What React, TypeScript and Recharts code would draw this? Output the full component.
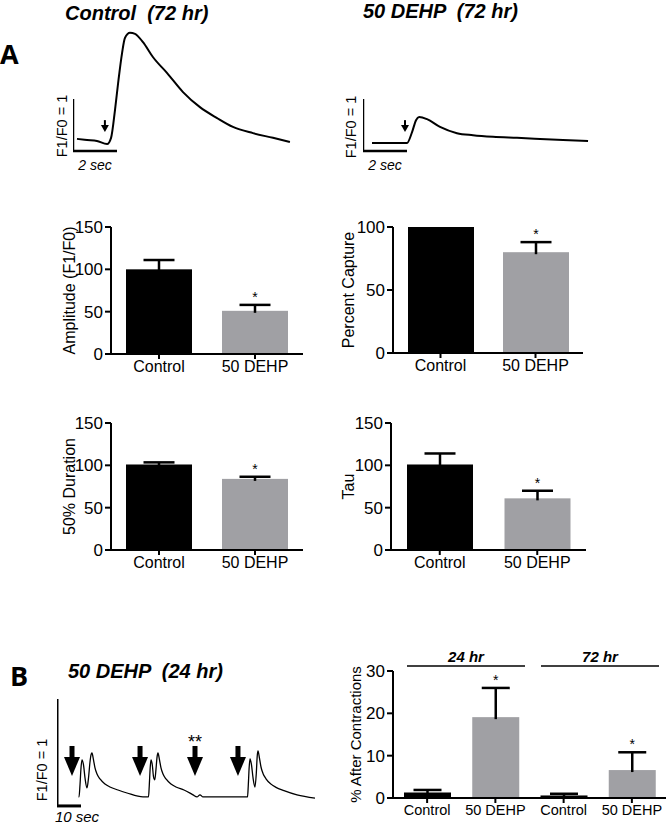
import React from 'react';
import { BarChart, Bar, XAxis, YAxis, ComposedChart, Line, Scatter, ReferenceLine } from 'recharts';

const FONT = '"Liberation Sans", Arial, Helvetica, sans-serif';
const GREY = '#a0a0a4';

// panel A traces: time (s) and F1/F0
const ctrlT = [0.18, 0.64, 1.09, 1.55, 1.73, 1.91, 2.05, 2.23, 2.36, 2.59, 2.82, 3.18, 3.64, 4.27, 5.0, 5.77, 6.55, 7.27, 8.18, 9.09, 9.86];
const ctrlF = [1.06, 1.04, 1.02, 0.96, 1.08, 1.62, 2.13, 2.71, 3.0, 3.1, 3.08, 2.92, 2.63, 2.33, 1.96, 1.67, 1.46, 1.29, 1.17, 1.08, 1.0];
const dehpT = [0.41, 1.23, 2.0, 2.23, 2.41, 2.55, 2.91, 3.5, 4.27, 5.0, 5.91, 7.0, 8.05, 9.09, 10.23];
const dehpF = [0.98, 0.98, 0.98, 1.19, 1.42, 1.48, 1.44, 1.29, 1.17, 1.13, 1.1, 1.08, 1.06, 1.04, 1.02];
const ctrlArrowT = [1.45];
const dehpArrowT = [1.91];
const arrowF = 1.19;

// panel B trace
const bT = [
  8.96, 9.17, 9.58, 10.0, 10.42, 11.04, 11.67, 12.5, 13.13, 13.75, 14.17, 14.58, 15.21, 15.83, 16.67, 17.92, 20.0, 22.08, 25.42, 29.17, 35.83,
  38.13, 38.46, 38.83, 39.17, 39.71, 40.21, 40.75, 41.25, 41.67, 42.08, 42.71, 43.33, 44.17, 45.42, 47.5, 49.58, 52.92, 56.67, 58.33, 59.58, 60.83,
  79.17, 79.38, 79.71, 80.08, 80.42, 81.04, 81.67, 82.5, 83.04, 83.42, 83.75, 84.38, 85.0, 85.83, 87.08, 89.17, 91.25, 94.58, 100, 107.5,
];
const bF = [
  1.0, 1.0, 1.112, 1.271, 1.346, 1.299, 1.178, 1.084, 1.178, 1.327, 1.393, 1.411, 1.346, 1.271, 1.215, 1.168, 1.121, 1.093, 1.065, 1.037, 1.0,
  1.0, 1.112, 1.271, 1.346, 1.299, 1.19, 1.16, 1.26, 1.37, 1.411, 1.346, 1.271, 1.215, 1.168, 1.121, 1.093, 1.065, 1.02, 1.0, 1.02, 1.0,
  1.0, 1.0, 1.112, 1.28, 1.355, 1.3, 1.18, 1.093, 1.22, 1.38, 1.43, 1.36, 1.28, 1.22, 1.17, 1.12, 1.09, 1.06, 1.02, 0.99,
];
const bArrowT = [6.25, 34.6, 57.5, 75.4];
const bArrowMark = ['', '', '**', ''];
const bArrowF = 1.196;

// bar panels
const groups = ['Control', '50 DEHP'];
const amplitude = [100, 51];
const amplitudeErr = [11, 7];
const capture = [100, 80];
const captureErr = [0, 8];
const duration = [101, 84];
const durationErr = [2.5, 2.5];
const tau = [101, 61];
const tauErr = [13, 9];
const sig2 = ['', '*'];

const afterGroups = ['Control', '50 DEHP', 'Control', '50 DEHP'];
const afterKeys = ['c24', 'd24', 'c72', 'd72'];
const after = [1.3, 19.1, 0.6, 6.6];
const afterErr = [0.6, 6.9, 0.4, 4.2];
const afterSig = ['', '*', '', '*'];

const pts = (t: number[], f: number[], extra?: string[]) =>
  t.map((v, i) => ({ t: v, f: f[i], mark: extra ? extra[i] : '' }));

const rows = (names: string[], keys: string[], m: number[], e: number[], s: string[]) =>
  names.map((n, i) => ({ key: keys[i], name: n, mean: m[i], err: e[i], sig: s[i], fill: i % 2 === 0 ? '#000' : GREY }));

const SmallArrow = ({ cx, cy }: any) => (
  <g>
    <line x1={cx} x2={cx} y1={cy - 12} y2={cy - 5} stroke="#000" strokeWidth={2} />
    <path d={`M${cx - 4},${cy - 7} L${cx + 4},${cy - 7} L${cx},${cy} Z`} fill="#000" />
  </g>
);

const BigArrow = ({ cx, cy, payload }: any) => (
  <g>
    <rect x={cx - 2.5} y={cy - 30} width={5} height={12} fill="#000" />
    <path d={`M${cx - 8},${cy - 19} L${cx + 8},${cy - 19} L${cx},${cy} Z`} fill="#000" />
    {payload && payload.mark ? (
      <text x={cx} y={cy - 28} textAnchor="middle" fontSize={18} fontFamily={FONT}>{payload.mark}</text>
    ) : null}
  </g>
);

function Trace({ left, top, t, f, arrows, xMax }: any) {
  return (
    <div style={{ position: 'absolute', left, top }}>
      <ComposedChart width={xMax * 22} height={130} margin={{ top: 0, right: 0, bottom: 0, left: 0 }}>
        <XAxis type="number" dataKey="t" domain={[0, xMax]} hide />
        <YAxis type="number" dataKey="f" domain={[0.75, 3.25]} hide />
        <ReferenceLine ifOverflow="visible" segment={[{ x: 0, y: 0.827 }, { x: 0, y: 1.827 }]} stroke="#000" strokeWidth={2.5} />
        <ReferenceLine ifOverflow="visible" segment={[{ x: 0, y: 0.827 }, { x: 2, y: 0.827 }]} stroke="#000" strokeWidth={2.5} />
        <Line data={pts(t, f)} dataKey="f" type="monotone" stroke="#000" strokeWidth={2} dot={false} isAnimationActive={false} />
        <Scatter data={arrows} dataKey="f" shape={(p: any) => <SmallArrow {...p} />} isAnimationActive={false} />
      </ComposedChart>
    </div>
  );
}

function BarWithError(props: any) {
  const { x, y, width, height, payload, cap } = props;
  const ppu = payload.mean > 0 ? height / payload.mean : 0;
  const top = y - payload.err * ppu;
  const cx = x + width / 2;
  return (
    <g>
      <rect x={x} y={y} width={width} height={height} fill={payload.fill} />
      {payload.err > 0 ? (
        <g stroke="#000" strokeWidth={2.5}>
          <line x1={cx} x2={cx} y1={y + 2} y2={top} />
          <line x1={cx - cap} x2={cx + cap} y1={top} y2={top} />
        </g>
      ) : null}
      {payload.sig ? (
        <text x={cx} y={top - 3} textAnchor="middle" fontSize={14} fontFamily={FONT} fill="#000">{payload.sig}</text>
      ) : null}
    </g>
  );
}

function StatChart({ data, left, plotTop, yW, plotW, plotH, domain, ticks, label, barSize, cap, catFont = 16, labelFont = 16, mRight = 4 }: any) {
  const mTop = 14;
  const names: Record<string, string> = {};
  data.forEach((d: any) => (names[d.key] = d.name));
  return (
    <div style={{ position: 'absolute', left, top: plotTop - mTop }}>
      <BarChart width={yW + plotW + mRight} height={mTop + plotH + 30} data={data} margin={{ top: mTop, right: mRight, bottom: 0, left: 0 }}>
        <XAxis
          dataKey="key"
          height={30}
          interval={0}
          tickFormatter={(k: string) => names[k]}
          axisLine={{ stroke: '#000', strokeWidth: 2 }}
          tickLine={{ stroke: '#000', strokeWidth: 2 }}
          tickSize={5}
          tick={{ fill: '#000', fontSize: catFont, fontFamily: FONT }}
        />
        <YAxis
          width={yW}
          domain={domain}
          ticks={ticks}
          interval={0}
          axisLine={{ stroke: '#000', strokeWidth: 2 }}
          tickLine={{ stroke: '#000', strokeWidth: 2 }}
          tickSize={6}
          tick={{ fill: '#000', fontSize: 17, fontFamily: FONT }}
          label={{
            value: label,
            angle: -90,
            position: 'center',
            fill: '#000',
            fontSize: labelFont,
            fontFamily: FONT,
            style: { fontSize: labelFont, fontFamily: FONT, fill: '#000' },
          }}
        />
        <Bar dataKey="mean" barSize={barSize} isAnimationActive={false} shape={(p: any) => <BarWithError {...p} cap={cap} />} />
      </BarChart>
    </div>
  );
}

export default function App() {
  const keys2 = ['ctrl', 'dehp'];
  const bold = { fontFamily: FONT, fontWeight: 700, fontStyle: 'italic' } as any;
  return (
    <div style={{ position: 'absolute', left: 0, top: 0, width: 667, height: 825, background: '#fff', fontFamily: FONT }}>
      <Trace left={73} top={25} t={ctrlT} f={ctrlF} xMax={10.5} arrows={pts(ctrlArrowT, [arrowF])} />
      <Trace left={363} top={25} t={dehpT} f={dehpF} xMax={10.5} arrows={pts(dehpArrowT, [arrowF])} />

      <StatChart data={rows(groups, keys2, amplitude, amplitudeErr, sig2)} left={27} plotTop={227} yW={84} plotW={192} plotH={127}
        domain={[0, 150]} ticks={[0, 50, 100, 150]} label="Amplitude (F1/F0)" barSize={66} cap={15.5} />
      <StatChart data={rows(groups, keys2, capture, captureErr, sig2)} left={303} plotTop={227} yW={90} plotW={190} plotH={126}
        domain={[0, 100]} ticks={[0, 50, 100]} label="Percent Capture" barSize={66} cap={15.5} />
      <StatChart data={rows(groups, keys2, duration, durationErr, sig2)} left={27} plotTop={423} yW={84} plotW={192} plotH={127}
        domain={[0, 150]} ticks={[0, 50, 100, 150]} label="50% Duration" barSize={66} cap={15.5} />
      <StatChart data={rows(groups, keys2, tau, tauErr, sig2)} left={305} plotTop={423} yW={86} plotW={195} plotH={127}
        domain={[0, 150]} ticks={[0, 50, 100, 150]} label="Tau" barSize={66} cap={15.5} />

      <div style={{ position: 'absolute', left: 57, top: 690 }}>
        <ComposedChart width={264} height={123} margin={{ top: 0, right: 0, bottom: 0, left: 0 }}>
          <XAxis type="number" dataKey="t" domain={[0, 110]} hide />
          <YAxis type="number" dataKey="f" domain={[0.85, 2.0]} hide />
          <ReferenceLine ifOverflow="visible" segment={[{ x: 0, y: 0.916 }, { x: 0, y: 1.916 }]} stroke="#000" strokeWidth={3} />
          <ReferenceLine ifOverflow="visible" segment={[{ x: 0, y: 0.916 }, { x: 10, y: 0.916 }]} stroke="#000" strokeWidth={3} />
          <Line data={pts(bT, bF)} dataKey="f" type="monotone" stroke="#000" strokeWidth={1.3} dot={false} isAnimationActive={false} />
          <Scatter data={pts(bArrowT, bArrowT.map(() => bArrowF), bArrowMark)} dataKey="f" shape={(p: any) => <BigArrow {...p} />} isAnimationActive={false} />
        </ComposedChart>
      </div>

      <StatChart data={rows(afterGroups, afterKeys, after, afterErr, afterSig)} left={319} plotTop={671} yW={74} plotW={273} plotH={127}
        domain={[0, 30]} ticks={[0, 10, 20, 30]} label="% After Contractions" labelFont={15} catFont={14.5} barSize={47} cap={14} mRight={0} />

      <svg width={667} height={825} style={{ position: 'absolute', left: 0, top: 0, pointerEvents: 'none' }}>
        <text x={0} y={64} fontSize={27} fontWeight={700} fontFamily='"Open Sans", sans-serif'>A</text>
        <text x={10} y={686} fontSize={27} fontWeight={700} fontFamily='"Open Sans", sans-serif'>B</text>
        <text x={65} y={20} fontSize={20} style={{ ...bold, whiteSpace: 'pre' }}>{'Control  (72 hr)'}</text>
        <text x={363} y={18} fontSize={20} style={{ ...bold, whiteSpace: 'pre' }}>{'50 DEHP  (72 hr)'}</text>
        <text x={68} y={678} fontSize={20} style={{ ...bold, whiteSpace: 'pre' }}>{'50 DEHP  (24 hr)'}</text>

        <text transform="translate(67,126) rotate(-90)" textAnchor="middle" fontSize={14.5} fontFamily={FONT}>F1/F0 = 1</text>
        <text transform="translate(356,127) rotate(-90)" textAnchor="middle" fontSize={14.5} fontFamily={FONT}>F1/F0 = 1</text>
        <text transform="translate(47,770) rotate(-90)" textAnchor="middle" fontSize={14.5} fontFamily={FONT}>F1/F0 = 1</text>
        <text x={95} y={170} textAnchor="middle" fontSize={14} fontStyle="italic" fontFamily={FONT}>2 sec</text>
        <text x={385} y={170} textAnchor="middle" fontSize={14} fontStyle="italic" fontFamily={FONT}>2 sec</text>
        <text x={77} y={822} textAnchor="middle" fontSize={15} fontStyle="italic" fontFamily={FONT}>10 sec</text>

        <text x={466} y={662} textAnchor="middle" fontSize={15} style={bold}>24 hr</text>
        <text x={600} y={662} textAnchor="middle" fontSize={15} style={bold}>72 hr</text>
        <line x1={407} x2={525} y1={666} y2={666} stroke="#000" strokeWidth={1.5} />
        <line x1={541} x2={659} y1={666} y2={666} stroke="#000" strokeWidth={1.5} />
      </svg>
    </div>
  );
}
